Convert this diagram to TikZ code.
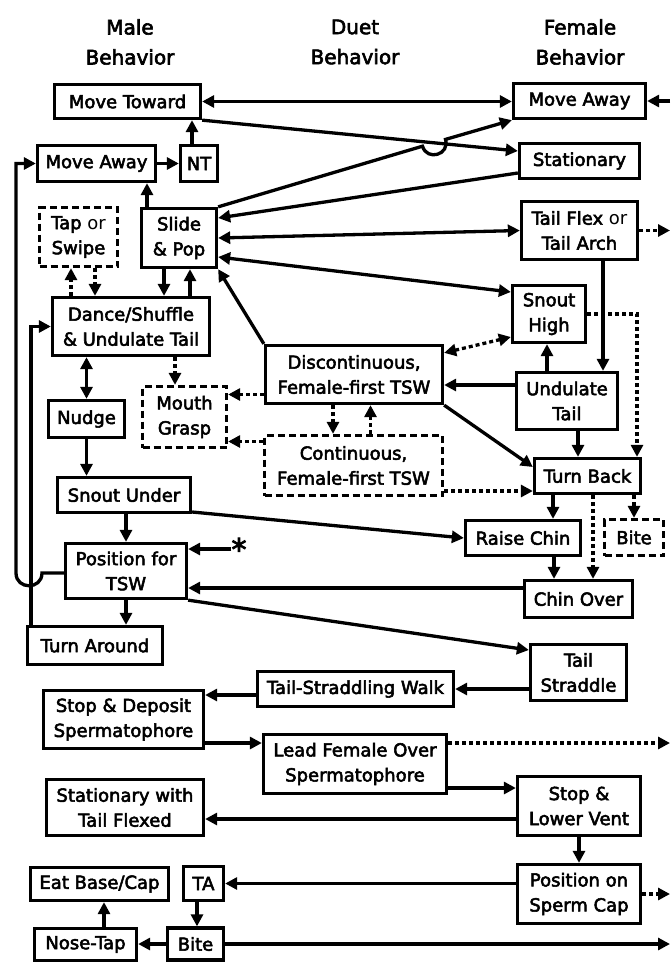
\documentclass[tikz,border=0pt]{standalone}
\usepackage{fontspec}
\setmainfont{DejaVu Sans}
\newfontfamily\boxfont{DejaVu Sans}[FakeBold=3]
\usetikzlibrary{arrows.meta}
\usetikzlibrary{positioning}
\tikzset{beh/.style={draw,line width=3.3pt,inner sep=0pt,align=center,font=\fontsize{18}{25}\selectfont\boxfont},
optbeh/.style={beh,dash pattern=on 7pt off 4pt},
head/.style={align=center,font=\fontsize{20}{30}\selectfont\boxfont},
flow/.style={line width=3.3pt,-{Triangle[length=12pt,width=12pt]}},
twoway/.style={line width=3.3pt,{Triangle[length=12pt,width=12pt]}-{Triangle[length=12pt,width=12pt]}},
dotted flow/.style={flow,dash pattern=on 4pt off 3pt},
dotted twoway/.style={twoway,dash pattern=on 4pt off 3pt}}

\begin{document}
\begin{tikzpicture}[x=1pt,y=-1pt]
\useasboundingbox (0,0) rectangle (670,963);
\coordinate (rim) at (670,0);
\node[head] (hmale) at (130,42) {Male\\Behavior};
\node[head] (hduet) at (355,42) {Duet\\Behavior};
\node[head] (hfemale) at (580,42) {Female\\Behavior};
% courtship
\node[beh,minimum width=146pt,minimum height=34pt] (mtow) at (127.5,101.5) {Move Toward};
\node[beh,minimum width=132pt,minimum height=35pt] (fmaway) at (579.5,101) {Move Away};
\node[beh,minimum width=118pt,minimum height=36pt] (mmaway) at (96.5,163.5) {Move Away};
\node[beh,minimum width=37pt,minimum height=36pt] (nt) at (199,163.5) {NT};
\node[beh,minimum width=120pt,minimum height=35pt] (fstat) at (579.5,161) {Stationary};
\node[optbeh,minimum width=78pt,minimum height=59pt] (tap) at (78.5,237) {Tap {\rmfamily or}\\Swipe};
\node[beh,minimum width=75pt,minimum height=59pt] (slide) at (179,238) {Slide\\\& Pop};
\node[beh,minimum width=116pt,minimum height=58pt] (tflex) at (579.5,230.5) {Tail Flex {\rmfamily or}\\Tail Arch};
\node[beh,minimum width=157pt,minimum height=58pt] (dance) at (131,326.5) {Dance/Shuffle\\\& Undulate Tail};
\node[beh,minimum width=73pt,minimum height=57pt] (shigh) at (549,314) {Snout\\High};
\node[beh,minimum width=177pt,minimum height=58pt] (disc) at (354,374.5) {Discontinuous,\\Female-first TSW};
\node[beh,minimum width=101pt,minimum height=57pt] (utail) at (567,401) {Undulate\\Tail};
\node[beh,minimum width=76pt,minimum height=37pt] (nudge) at (86.5,419) {Nudge};
\node[optbeh,minimum width=84pt,minimum height=61pt] (mouth) at (184.5,417) {Mouth\\Grasp};
\node[optbeh,minimum width=178pt,minimum height=60pt] (cont) at (353.5,465.5) {Continuous,\\Female-first TSW};
\node[beh,minimum width=106pt,minimum height=35pt] (tback) at (587.5,476) {Turn Back};
\node[beh,minimum width=133pt,minimum height=35pt] (sunder) at (124,495) {Snout Under};
\node[beh,minimum width=115pt,minimum height=35pt] (rchin) at (523,538) {Raise Chin};
\node[optbeh,minimum width=59pt,minimum height=36pt] (fbite) at (634,537.5) {Bite};
\node[beh,minimum width=121pt,minimum height=55pt] (pos) at (126,571) {Position for\\TSW};
\node[font=\fontsize{30}{30}\selectfont\boxfont,inner sep=0pt] (ast) at (239,549) {\raisebox{-0.28em}{*}};
\node[beh,minimum width=108pt,minimum height=37pt] (chin) at (578.5,599) {Chin Over};
\node[beh,minimum width=135pt,minimum height=38pt] (tarnd) at (95,645.5) {Turn Around};
% spermatophore transfer
\node[beh,minimum width=96pt,minimum height=56pt] (tstr) at (578.5,672.5) {Tail\\Straddle};
\node[beh,minimum width=196pt,minimum height=35pt] (tswalk) at (355.5,689) {Tail-Straddling Walk};
\node[beh,minimum width=160pt,minimum height=58pt] (sdep) at (123.5,719.5) {Stop \& Deposit\\Spermatophore};
\node[beh,minimum width=183pt,minimum height=59pt] (lead) at (355,764) {Lead Female Over\\Spermatophore};
\node[beh,minimum width=123pt,minimum height=59pt] (slow) at (579,806) {Stop \&\\Lower Vent};
\node[beh,minimum width=157pt,minimum height=56pt] (statf) at (125,807.5) {Stationary with\\Tail Flexed};
\node[beh,minimum width=123pt,minimum height=59pt] (poscap) at (579,894) {Position on\\Sperm Cap};
\node[beh,minimum width=40pt,minimum height=34pt] (ta) at (203.5,883.5) {TA};
\node[beh,minimum width=138pt,minimum height=33pt] (eat) at (99.5,884) {Eat Base/Cap};
\node[beh,minimum width=102pt,minimum height=32pt] (ntap) at (85.5,944.5) {Nose-Tap};
\node[beh,minimum width=56pt,minimum height=32pt] (mbite) at (195.5,944) {Bite};
% top rows
\draw[twoway] (mtow.east) -- (mtow.east -| fmaway.west);
\draw[flow] (fmaway.east -| rim) -- (fmaway.east);
\draw[flow] (mmaway.east) -- (nt.west);
\draw[flow] ([xshift=-7pt]nt.north) -- ([xshift=-7pt]nt.north |- mtow.south);
\draw[flow] (mtow.south east) -- ([yshift=10pt]fstat.west);
\draw[flow] (slide.north east) -- (422.5,146.2) .. controls (427.1,161.5) and (450.1,154.7) .. (445.5,139.4) -- (fmaway.south west);
\draw[flow] ([yshift=-12pt]fstat.west) -- ([yshift=20pt]slide.east);
\draw[twoway] (slide.east) -- (tflex.west);
\draw[twoway] ([yshift=-19pt]slide.east) -- ([yshift=22pt]shigh.west);
\draw[dotted flow] (tflex.east) -- (tflex.east -| rim);
\draw[flow] ([xshift=-32pt]slide.north) -- ([xshift=-32pt]slide.north |- mmaway.south);
% male side
\draw[dotted flow] ([xshift=-60pt]dance.north) -- ([xshift=-60pt]dance.north |- tap.south);
\draw[dotted flow] ([xshift=16.5pt]tap.south) -- ([xshift=16.5pt]tap.south |- dance.north);
\draw[flow] ([xshift=-15pt]slide.south) -- ([xshift=-15pt]slide.south |- dance.north);
\draw[flow] ([xshift=11pt]slide.south |- dance.north) -- ([xshift=11pt]slide.south);
\draw[flow] (disc.north west) -- (slide.south east);
\draw[dotted flow] ([xshift=44pt]dance.south) -- ([xshift=44pt]dance.south |- mouth.north);
\draw[twoway] (nudge.north |- dance.south) -- (nudge.north);
\draw[flow] (nudge.south) -- (nudge.south |- sunder.north);
\draw[flow] (pos.north |- sunder.south) -- (pos.north);
\draw[flow] (ast.west) -- (ast.west -| pos.east);
\draw[flow] (pos.south) -- (pos.south |- tarnd.north);
\draw[flow] ([xshift=-64pt]tarnd.north) |- (dance.west);
\draw[flow] ([yshift=-2pt]pos.west) -- (42,573) .. controls (42,590) and (16,590) .. (16,573) |- (mmaway.west);
% duet
\draw[dotted flow] ([yshift=-20pt]disc.west) -- ([yshift=-20pt]disc.west -| mouth.east);
\draw[dotted flow] ([yshift=24pt]cont.west) -- ([yshift=24pt]cont.west -| mouth.east);
\draw[dotted flow] ([xshift=-21pt]disc.south) -- ([xshift=-21pt]disc.south |- cont.north);
\draw[dotted flow] ([xshift=17pt]cont.north) -- ([xshift=17pt]cont.north |- disc.south);
\draw[dotted twoway] ([yshift=-23pt]shigh.west) -- ([yshift=-9pt]disc.north east);
\draw[flow] (disc.south east) -- ([yshift=9pt]tback.west);
\draw[dotted flow] ([yshift=-25.5pt]cont.east) -- ([yshift=-25.5pt]cont.east -| tback.west);
% female side
\draw[dotted flow] (shigh.east) -| ([xshift=49.5pt]tback.north);
\draw[flow] ([xshift=23.5pt]tflex.south) -- ([xshift=23.5pt]tflex.south |- utail.north);
\draw[flow] ([xshift=-2pt]shigh.south |- utail.north) -- ([xshift=-2pt]shigh.south);
\draw[flow] ([yshift=16pt]utail.west) -- ([yshift=16pt]utail.west -| disc.east);
\draw[flow] ([xshift=11pt]utail.south) -- ([xshift=11pt]utail.south |- tback.north);
\draw[flow] ([xshift=30pt]rchin.north |- tback.south) -- ([xshift=30pt]rchin.north);
\draw[dotted flow] (fbite.north |- tback.south) -- (fbite.north);
\draw[dotted flow] ([xshift=14.5pt]chin.north |- tback.south) -- ([xshift=14.5pt]chin.north);
\draw[flow] ([xshift=31pt]rchin.south) -- ([xshift=31pt]rchin.south |- chin.north);
\draw[flow] ([yshift=-17pt]sunder.east) -- (rchin.west);
\draw[flow] ([yshift=11pt]chin.west) -- ([yshift=11pt]chin.west -| pos.east);
% transfer
\draw[flow] (pos.south east) -- ([yshift=22.5pt]tstr.west);
\draw[flow] (tstr.west |- tswalk.east) -- (tswalk.east);
\draw[flow] ([yshift=-6pt]tswalk.west) -- ([yshift=-6pt]tswalk.west -| sdep.east);
\draw[flow] ([yshift=-23.5pt]sdep.east) -- ([yshift=-23.5pt]sdep.east -| lead.west);
\draw[dotted flow] ([yshift=21pt]lead.east) -- ([yshift=21pt]lead.east -| rim);
\draw[flow] ([yshift=-24pt]lead.east) -- ([yshift=-24pt]lead.east -| slow.west);
\draw[flow] ([yshift=-13pt]slow.west) -- ([yshift=-13pt]slow.west -| statf.east);
\draw[flow] (slow.south) -- (poscap.north);
\draw[dotted flow] (poscap.east) -- (poscap.east -| rim);
\draw[flow] (poscap.west |- ta.east) -- (ta.east);
\draw[flow] ([xshift=-6.5pt]ta.south) -- ([xshift=-6.5pt]ta.south |- mbite.north);
\draw[flow] (mbite.west) -- (mbite.west -| ntap.east);
\draw[flow] ([xshift=18.5pt]ntap.north) -- ([xshift=18.5pt]ntap.north |- eat.south);
\draw[flow] (mbite.east) -- (mbite.east -| rim);
\end{tikzpicture}
\end{document}
